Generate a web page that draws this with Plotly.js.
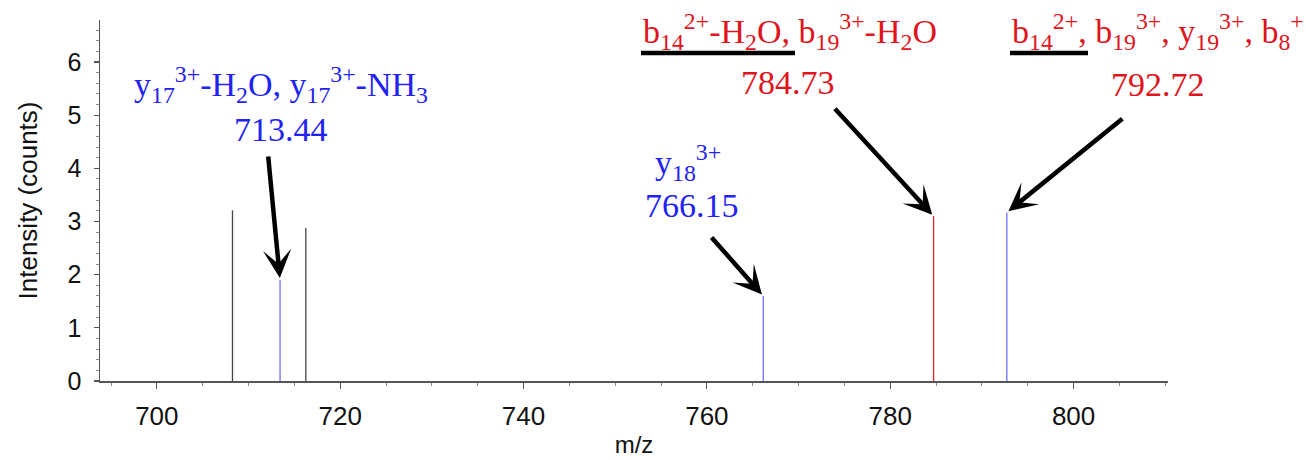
<!DOCTYPE html>
<html>
<head>
<meta charset="utf-8">
<script src="https://cdn.plot.ly/plotly-3.0.1.min.js"></script>
<style>html,body{margin:0;padding:0;background:#fff;}#chart{width:1306px;height:460px;}</style>
</head>
<body>
<div id="chart"></div>
<script>
// ---- data ----
const mzUnassigned = [708.25, 716.25];
const intUnassigned = [3.21, 2.88];
const mzBlue = [713.44, 766.15, 792.72];
const intBlue = [1.90, 1.60, 3.17];
const mzRed = [784.73];
const intRed = [3.10];

const labelBlue713 = 'y<sub>17</sub><sup>3+</sup>-H<sub>2</sub>O, y<sub>17</sub><sup>3+</sup>-NH<sub>3</sub>';
const labelBlue766 = 'y<sub>18</sub><sup>3+</sup>';
const labelRed784 = 'b<sub>14</sub><sup>2+</sup>-H<sub>2</sub>O, b<sub>19</sub><sup>3+</sup>-H<sub>2</sub>O';
const labelRed792 = 'b<sub>14</sub><sup>2+</sup>, b<sub>19</sub><sup>3+</sup>, y<sub>19</sub><sup>3+</sup>, b<sub>8</sub><sup>+</sup>';

function sticks(xs, ys) {
  const x = [], y = [];
  xs.forEach((m, i) => { x.push(m, m, null); y.push(0, ys[i], null); });
  return {x, y};
}

const sU = sticks(mzUnassigned, intUnassigned);
const sB = sticks(mzBlue, intBlue);
const sR = sticks(mzRed, intRed);

const traces = [
  {x: sU.x, y: sU.y, mode: 'lines', line: {color: '#444444', width: 1.3}, hoverinfo: 'skip'},
  {x: sB.x, y: sB.y, mode: 'lines', line: {color: '#7070ff', width: 1.3}, hoverinfo: 'skip'},
  {x: sR.x, y: sR.y, mode: 'lines', line: {color: '#e8202a', width: 1.3}, hoverinfo: 'skip'}
];

// plot area geometry (pixels) used to place the free text
const L = 100, T = 20, W = 1068, H = 361;
const px = v => (v - L) / W;
const py = v => (T + H - v) / H;

const BLUE = '#2222f2', RED = '#e0141c';
const serif = {family: 'Liberation Serif, Times New Roman, serif', size: 34};
function txt(text, x, y, color) {
  return {text, xref: 'paper', yref: 'paper', x: px(x), y: py(y), xanchor: 'center', yanchor: 'middle',
          showarrow: false, font: Object.assign({}, serif, {color})};
}
function arrow(mz, h, ax, ay) {
  return {x: mz, y: h, xref: 'x', yref: 'y', text: '', showarrow: true, ax, ay,
          arrowhead: 3, arrowsize: 1.05, arrowwidth: 4.5, arrowcolor: '#000', standoff: 2};
}

const annotations = [
  txt(labelBlue713, 281, 84, BLUE),
  txt(mzBlue[0].toFixed(2), 281, 129, BLUE),
  txt(labelBlue766, 688, 162, BLUE),
  txt(mzBlue[1].toFixed(2), 692, 205, BLUE),
  txt(labelRed784, 790, 31, RED),
  txt(mzRed[0].toFixed(2), 788, 82, RED),
  txt(labelRed792, 1158, 31, RED),
  txt(mzBlue[2].toFixed(2), 1158, 84, RED),
  arrow(mzBlue[0], intBlue[0], -12, -125),
  arrow(mzBlue[1], intBlue[1], -53, -60),
  arrow(mzRed[0], intRed[0], -100, -109),
  arrow(mzBlue[2], intBlue[2], 117, -95)
];

const shapes = [
  {type: 'line', xref: 'paper', yref: 'paper', x0: px(641), x1: px(795), y0: py(53), y1: py(53), line: {color: '#000', width: 4.5}},
  {type: 'line', xref: 'paper', yref: 'paper', x0: px(1010), x1: px(1088), y0: py(53), y1: py(53), line: {color: '#000', width: 4.5}}
];

const axisCol = '#555';
const sans = 'Liberation Sans, Arial, sans-serif';
const layout = {
  width: 1306, height: 460,
  margin: {l: L, r: 1306 - L - W, t: T, b: 460 - T - H, pad: 0},
  paper_bgcolor: '#fff', plot_bgcolor: '#fff',
  showlegend: false,
  xaxis: {
    range: [693.8, 810.3], showgrid: false, zeroline: false,
    showline: true, linecolor: axisCol, linewidth: 1.5,
    ticks: 'outside', ticklen: 6, tickwidth: 1.2, tickcolor: axisCol,
    tick0: 700, dtick: 20, ticklabelstandoff: 5,
    minor: {dtick: 5, ticks: 'outside', ticklen: 3, tickcolor: '#888', tickwidth: 1},
    tickfont: {family: sans, size: 26, color: '#111'},
    title: {text: 'm/z', font: {family: sans, size: 24, color: '#111'}, standoff: 6}
  },
  yaxis: {
    range: [0, 6.79], showgrid: false, zeroline: false,
    showline: true, linecolor: axisCol, linewidth: 1.5,
    ticks: 'outside', ticklen: 5, tickwidth: 1.2, tickcolor: axisCol,
    tick0: 0, dtick: 1, ticklabelstandoff: 7,
    minor: {dtick: 0.2, ticks: 'outside', ticklen: 3, tickcolor: '#888', tickwidth: 1},
    tickfont: {family: sans, size: 25, color: '#111'},
    title: {text: 'Intensity (counts)', font: {family: sans, size: 26, color: '#111'}, standoff: 22}
  },
  annotations, shapes
};

Plotly.newPlot('chart', traces, layout, {staticPlot: true, displayModeBar: false});
</script>
</body>
</html>
